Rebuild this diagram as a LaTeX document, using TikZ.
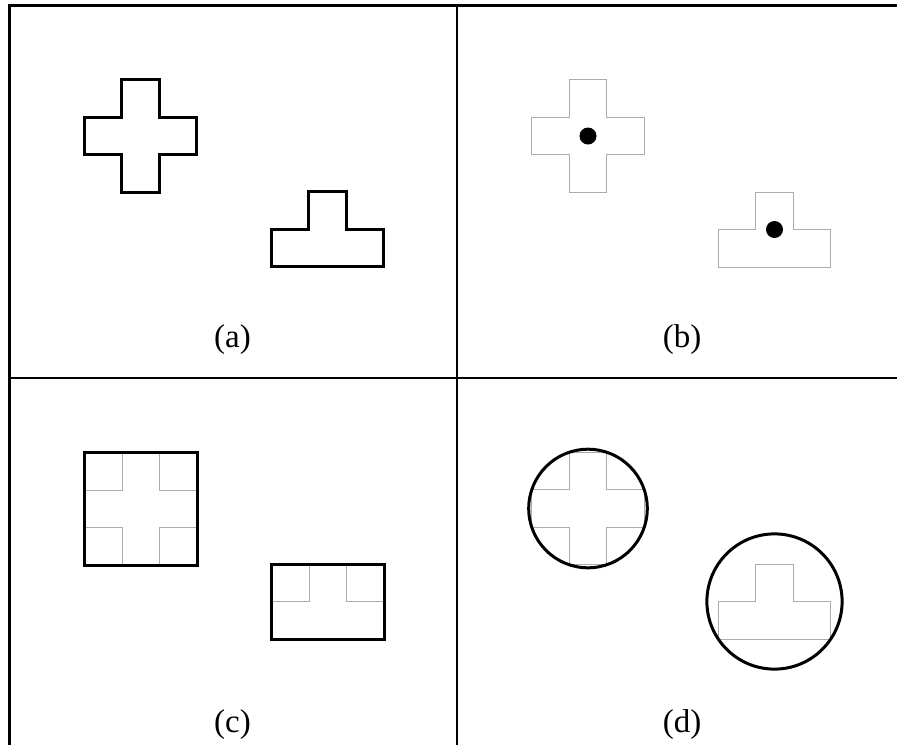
\documentclass[tikz,border=0pt]{standalone}
\usepackage{fontspec}
\setmainfont{Liberation Serif}
\usepackage{tikz}

\tikzset{
  frameline/.style={line width=2.6pt, black},
  outline/.style={line width=3pt, black, line join=miter},
  faint/.style={line width=1pt, gray!65},
  sublabel/.style={font=\fontsize{33}{38}\selectfont, inner sep=0pt},
  centre/.style={circle, fill=black, inner sep=0pt, minimum size=17pt},
}

\begin{document}
\begin{tikzpicture}[x=1pt, y=-1pt]

\useasboundingbox (0,0) rectangle (897,745);

% Frame
\draw[frameline, line join=miter] (897,5.5) -- (9.5,5.5) -- (9.5,745);
\draw[frameline] (457,5.5) -- (457,745);
\draw[frameline] (9.5,378) -- (897,378);

% Panel (a)
\begin{scope}[shift={(140.5,136)}, scale=37.5]
\draw[outline] (-0.5,-1.5) -- (0.5,-1.5) -- (0.5,-0.5) -- (1.5,-0.5) -- (1.5,0.5) -- (0.5,0.5) -- (0.5,1.5) -- (-0.5,1.5) -- (-0.5,0.5) -- (-1.5,0.5) -- (-1.5,-0.5) -- (-0.5,-0.5) -- cycle;
\end{scope}
\begin{scope}[shift={(327.5,229)}, scale=37.5]
\draw[outline] (-0.5,-1) -- (0.5,-1) -- (0.5,0) -- (1.5,0) -- (1.5,1) -- (-1.5,1) -- (-1.5,0) -- (-0.5,0) -- cycle;
\end{scope}
\node[sublabel] (lblA) at (232.5,340) {(a)};

% Panel (b)
\begin{scope}[shift={(588,136)}, scale=37.5]
\draw[faint] (-0.5,-1.5) -- (0.5,-1.5) -- (0.5,-0.5) -- (1.5,-0.5) -- (1.5,0.5) -- (0.5,0.5) -- (0.5,1.5) -- (-0.5,1.5) -- (-0.5,0.5) -- (-1.5,0.5) -- (-1.5,-0.5) -- (-0.5,-0.5) -- cycle;
\node[centre] (dotB1) at (0,0) {};
\end{scope}
\begin{scope}[shift={(774.5,229.5)}, scale=37.5]
\draw[faint] (-0.5,-1) -- (0.5,-1) -- (0.5,0) -- (1.5,0) -- (1.5,1) -- (-1.5,1) -- (-1.5,0) -- (-0.5,0) -- cycle;
\node[centre] (dotB2) at (0,0) {};
\end{scope}
\node[sublabel] (lblB) at (682,340) {(b)};

% Panel (c)
\begin{scope}[shift={(141,509)}, scale=37.5]
\draw[faint] (-0.5,-1.5) -- (0.5,-1.5) -- (0.5,-0.5) -- (1.5,-0.5) -- (1.5,0.5) -- (0.5,0.5) -- (0.5,1.5) -- (-0.5,1.5) -- (-0.5,0.5) -- (-1.5,0.5) -- (-1.5,-0.5) -- (-0.5,-0.5) -- cycle;
\draw[outline] (-1.5,-1.5) rectangle (1.5,1.5);
\end{scope}
\begin{scope}[shift={(328,601.5)}, scale=37.5]
\draw[faint] (-0.5,-1) -- (0.5,-1) -- (0.5,0) -- (1.5,0) -- (1.5,1) -- (-1.5,1) -- (-1.5,0) -- (-0.5,0) -- cycle;
\draw[outline] (-1.5,-1) rectangle (1.5,1);
\end{scope}
\node[sublabel] (lblC) at (232.5,725) {(c)};

% Panel (d)
\begin{scope}[shift={(588,508.5)}, scale=37.5]
\draw[faint] (-0.5,-1.5) -- (0.5,-1.5) -- (0.5,-0.5) -- (1.5,-0.5) -- (1.5,0.5) -- (0.5,0.5) -- (0.5,1.5) -- (-0.5,1.5) -- (-0.5,0.5) -- (-1.5,0.5) -- (-1.5,-0.5) -- (-0.5,-0.5) -- cycle;
\draw[outline] (0,0) circle[radius=1.5811];
\end{scope}
\begin{scope}[shift={(774.5,601.5)}, scale=37.5]
\draw[faint] (-0.5,-1) -- (0.5,-1) -- (0.5,0) -- (1.5,0) -- (1.5,1) -- (-1.5,1) -- (-1.5,0) -- (-0.5,0) -- cycle;
\draw[outline] (0,0) circle[radius=1.8028];
\end{scope}
\node[sublabel] (lblD) at (682,725) {(d)};

\end{tikzpicture}
\end{document}
